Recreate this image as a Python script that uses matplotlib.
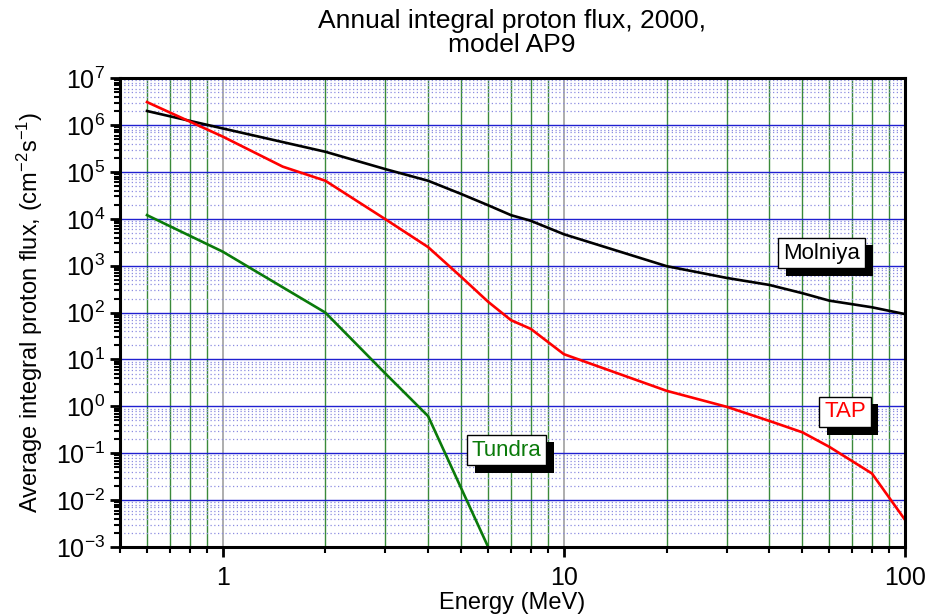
import matplotlib
matplotlib.use("Agg")
import matplotlib.pyplot as plt
import matplotlib.patheffects as pe
from matplotlib.ticker import LogLocator, FuncFormatter, NullFormatter

plt.rcParams['font.family'] = ['Liberation Sans', 'DejaVu Sans']
plt.rcParams['axes.unicode_minus'] = False
plt.rcParams['mathtext.fontset'] = 'custom'
plt.rcParams['mathtext.rm'] = 'Liberation Sans'
plt.rcParams['mathtext.it'] = 'Liberation Sans'

# energies (MeV) and integral flux values (cm^-2 s^-1)
molniya_e = [0.6, 1, 2, 3, 4, 5, 6, 7, 8, 10, 20, 30, 40, 50, 60, 80, 100]
molniya_f = [2.0e6, 8.5e5, 2.7e5, 1.15e5, 6.5e4, 3.4e4, 1.95e4, 1.2e4, 9.1e3,
             4.7e3, 9.8e2, 5.5e2, 3.9e2, 2.6e2, 1.8e2, 1.3e2, 9.3e1]

tap_e = [0.6, 1, 1.5, 2, 3, 4, 5, 6, 7, 8, 10, 20, 30, 40, 50, 60, 80, 100]
tap_f = [3.1e6, 5.7e5, 1.3e5, 6.5e4, 9.8e3, 2.5e3, 5.8e2, 1.7e2, 6.9e1, 4.5e1,
         1.3e1, 2.15, 0.98, 0.49, 0.28, 0.137, 0.037, 0.0038]

tundra_e = [0.6, 1, 2, 3, 4, 6]
tundra_f = [1.2e4, 2.0e3, 1.0e2, 5.0, 0.62, 1.0e-3]

fig = plt.figure(figsize=(9.25, 6.16), dpi=100)
ax = fig.add_axes([0.1297, 0.112, 0.8487, 0.761])

ax.set_xscale('log')
ax.set_yscale('log')
ax.set_xlim(0.5, 100)
ax.set_ylim(1e-3, 1e7)

# grid
ax.set_axisbelow(True)
ax.yaxis.set_major_locator(LogLocator(base=10, numticks=20))
ax.yaxis.set_minor_locator(LogLocator(base=10, subs=range(2, 10), numticks=20))
ax.xaxis.set_minor_locator(LogLocator(base=10, subs=range(2, 10), numticks=20))
ax.grid(True, which='major', axis='y', color='#2020d0', lw=1.0)
ax.grid(True, which='minor', axis='y', color='#8c8ce0', lw=0.9, ls=(0, (1, 2)))
ax.grid(True, which='major', axis='x', color='#a0a0a0', lw=1.2)
ax.grid(True, which='minor', axis='x', color='#3a8a3a', lw=1.0)

ax.plot(molniya_e, molniya_f, color='black', lw=1.9)
ax.plot(tap_e, tap_f, color='#ff0000', lw=1.9)
ax.plot(tundra_e, tundra_f, color='#0a7a0a', lw=1.9)

ax.xaxis.set_major_formatter(FuncFormatter(lambda v, p: '%g' % v))
ax.xaxis.set_minor_formatter(NullFormatter())

ax.tick_params(which='major', direction='out', length=7, width=2, labelsize=18)
ax.tick_params(which='minor', direction='out', length=4, width=1.5)
ax.tick_params(axis='x', pad=7)
for s in ax.spines.values():
    s.set_linewidth(2.2)

ax.set_xlabel('Energy (MeV)', fontsize=17, va='center')
ax.xaxis.set_label_coords(0.5, -0.119)
ax.set_ylabel('Average integral proton flux, (cm$^{-2}$s$^{-1}$)', fontsize=17, va='center')
ax.yaxis.set_label_coords(-0.115, 0.5)
fig.text(0.553, 0.985, 'Annual integral proton flux, 2000,\nmodel AP9', fontsize=19,
         ha='center', va='top', linespacing=1.0)

# labels in white boxes with a black drop shadow
labels = [('Molniya', 57, 1.86e3, 'black'),
          ('TAP', 66.7, 0.76, '#ff0000'),
          ('Tundra', 6.8, 0.117, '#0a7a0a')]
for txt, x, y, c in labels:
    t = ax.text(x, y, txt, ha='center', va='center', fontsize=16, color=c,
                bbox=dict(boxstyle='square,pad=0.22', fc='white', ec='black', lw=1))
    t.get_bbox_patch().set_path_effects([
        pe.SimplePatchShadow(offset=(5.5, -5.5), shadow_rgbFace='black', alpha=1),
        pe.Normal()])

fig.savefig('out.png', dpi=100)
